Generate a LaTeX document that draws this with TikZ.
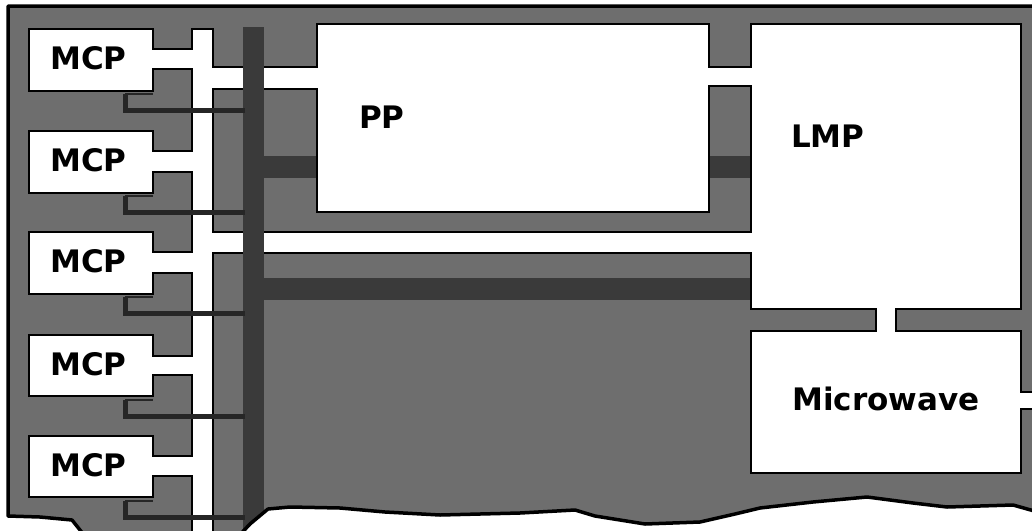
\documentclass[tikz,border=0pt]{standalone}
\usepackage{fontspec}
\newfontfamily\labelfont{DejaVu Sans}
\definecolor{chk}{HTML}{6E6E6E}
\definecolor{busdark}{HTML}{3A3A3A}
\tikzset{
  framepath/.style={insert path={(1045,6) -- (8,6) -- (8,516) -- (40,517) -- (72,520) -- (88,540) -- (235,540) -- (250,524) -- (268,509) -- (290,507) -- (340,508) -- (385,512) -- (440,515) -- (520,513) -- (575,510) -- (595,516) -- (645,524) -- (700,522) -- (735,514) -- (760,508) -- (813,502) -- (867,497) -- (913,503) -- (947,507) -- (1013,505) -- (1045,514) -- cycle}},
  lbl/.style={font=\labelfont\bfseries\fontsize{31}{36}\selectfont, inner sep=0pt, anchor=base west, text=black},
  wire/.style={line width=5pt, draw=black!85},
  stepline/.style={line width=2.5pt, draw=black!85},
  outl/.style={line width=4.5pt, draw=black},
}
\def\wrects{30/30/152/90, 30/132/152/192, 30/233/152/293, 30/336/152/395, 30/437/152/496,
150/50/195/68, 150/152/195/171, 150/253/195/272, 150/357/195/374, 150/457/195/475,
193/30/212/108, 193/111/212/210, 193/212/212/311, 193/315/212/414, 193/416/212/545,
210/68/320/88, 210/233/754/252,
318/25/708/211, 706/68/754/85, 752/25/1020/308, 877/306/895/334, 752/332/1020/472, 1018/393/1045/408}
\begin{document}
\begin{tikzpicture}[x=1pt,y=-1pt]
\clip (0,0) rectangle (1032,530);
\fill[white] (0,0) rectangle (1032,530);
\begin{scope}
  \clip[framepath];
  \fill[chk] (0,0) rectangle (1040,545);
  % dark horizontal bands
  \fill[busdark] (262,156) rectangle (754,178);
  \fill[busdark] (262,278) rectangle (754,300);
  % white regions: outline pass, then fill pass
  \foreach \a/\b/\c/\d in \wrects { \draw[outl] (\a,\b) rectangle (\c,\d); }
  \foreach \a/\b/\c/\d in \wrects { \fill[white] (\a,\b) rectangle (\c,\d); }
  % dark vertical bus
  \fill[busdark] (243,27) rectangle (264,545);
  % control wires from each MCP to the bus
  \foreach \s/\w in {94/110, 196/212, 297/313, 400/416, 501/517} {
    \draw[wire] (125,\s) -- (125,\w) -- (245,\w);
    \draw[stepline] (125,\s) -- (153,\s);
  }
\end{scope}
\draw[line width=3.5pt, line join=round][framepath];
% labels
\node[lbl] (mcp1) at (50,69) {MCP};
\node[lbl] (mcp2) at (50,171) {MCP};
\node[lbl] (mcp3) at (50,272) {MCP};
\node[lbl] (mcp4) at (50,375) {MCP};
\node[lbl] (mcp5) at (50,476) {MCP};
\node[lbl] (pp) at (359,128) {PP};
\node[lbl] (lmp) at (791,147) {LMP};
\node[lbl] (mw) at (792,410) {Microwave};
\end{tikzpicture}
\end{document}
